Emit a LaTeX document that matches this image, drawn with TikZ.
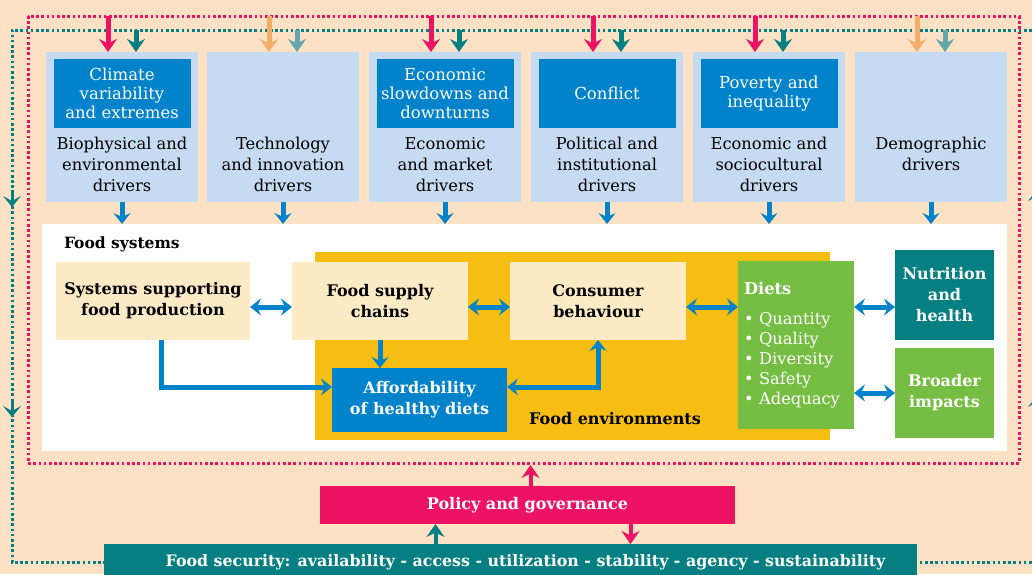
\documentclass[tikz,border=0pt]{standalone}
\usepackage{fontspec}
\setmainfont{DejaVu Serif}
\usetikzlibrary{arrows.meta}
\definecolor{peach}{HTML}{FCE1C5}
\definecolor{drvblue}{HTML}{C6DBF2}
\definecolor{shkblue}{HTML}{0083CA}
\definecolor{polpink}{HTML}{EE1262}
\definecolor{fsteal}{HTML}{067F82}
\definecolor{lteal}{HTML}{61A7AB}
\definecolor{lorange}{HTML}{F2AD68}
\definecolor{envyellow}{HTML}{F6BE13}
\definecolor{cream}{HTML}{FEEBC6}
\definecolor{dietgreen}{HTML}{76BE43}
\begin{document}
\begin{tikzpicture}[x=1pt,y=-1pt,
    every node/.style={inner sep=0pt,outer sep=0pt},
    drvbox/.style={fill=drvblue,minimum width=152pt,minimum height=150pt},
    shkbox/.style={fill=shkblue,text=white,minimum width=137pt,minimum height=69pt,align=center,font=\fontsize{16.5}{19}\selectfont},
    drvtext/.style={anchor=north,align=center,font=\fontsize{16.3}{21}\selectfont},
    fsbox/.style={fill=cream,minimum height=78pt,align=center,font=\bfseries\fontsize{16}{21}\selectfont},
    outbox/.style={minimum width=99pt,minimum height=90pt,align=center,text=white,font=\bfseries\fontsize{16}{21}\selectfont},
    pinkdot/.style={polpink,line width=3pt,dash pattern=on 2.6pt off 2.6pt},
    tealdot/.style={fsteal,line width=3pt,dash pattern=on 2.6pt off 2.6pt},
    toparr/.style={line width=5pt,-{Stealth[length=13pt,width=18pt,inset=4.5pt]}},
    bluearr/.style={shkblue,line width=5pt,-{Stealth[length=11pt,width=17pt,inset=4pt]}},
    bluedbl/.style={shkblue,line width=5pt,{Stealth[length=11pt,width=17pt,inset=4pt]}-{Stealth[length=11pt,width=17pt,inset=4pt]}},
    chev/.style={fsteal,line width=3pt,-{Stealth[length=11pt,width=18pt,inset=5pt]}}
  ]
  \useasboundingbox (0,0) rectangle (1032,574);
  \clip (0,0) rectangle (1032,574);
  \fill[peach] (0,0) rectangle (1032,574);

  % feedback loops
  \draw[tealdot] (1037,30) -- (12,30) -- (12,562) -- (1037,562) -- cycle;
  \draw[pinkdot] (28,16) rectangle (1019,463);
  \draw[chev] (12,190) -- (12,207);
  \draw[chev] (12,400) -- (12,417);
  \draw[chev] (1037,207) -- (1037,190);
  \draw[chev] (1037,413) -- (1037,396);
  \coordinate (pinkline) at (0,16);
  \coordinate (tealline) at (0,30);
  \coordinate (pinkbot) at (0,465);

  % drivers
  \node[drvbox] (drvbio) at (122,127) {};
  \node[drvbox] (drvtech) at (283,127) {};
  \node[drvbox] (drvecon) at (445,127) {};
  \node[drvbox] (drvpol) at (607,127) {};
  \node[drvbox] (drvsoc) at (769,127) {};
  \node[drvbox] (drvdem) at (931,127) {};
  \node[shkbox] (shkclim) at (122,93.5) {Climate\\variability\\and extremes};
  \node[shkbox] (shkecon) at (445,93.5) {Economic\\slowdowns and\\downturns};
  \node[shkbox] (shkconf) at (607,93.5) {Conflict};
  \node[shkbox] (shkpov) at (769,93.5) {Poverty and\\inequality};
  \node[drvtext] (txtbio) at (122,137) {Biophysical and\\environmental\\drivers};
  \node[drvtext] (txttech) at (283,137) {Technology\\and innovation\\drivers};
  \node[drvtext] (txtecon) at (445,137) {Economic\\and market\\drivers};
  \node[drvtext] (txtpol) at (607,137) {Political and\\institutional\\drivers};
  \node[drvtext] (txtsoc) at (769,137) {Economic and\\sociocultural\\drivers};
  \node[drvtext] (txtdem) at (931,137) {Demographic\\drivers};

  % food systems
  \node[fill=white,minimum width=965pt,minimum height=227pt] (fsys) at (524.5,337.5) {};
  \node[anchor=west,font=\bfseries\fontsize{15.5}{18}\selectfont] (fsyslbl) at (64,244) {Food systems};
  \node[fill=envyellow,minimum width=515pt,minimum height=188pt] (foodenv) at (572.5,346) {};
  \node[font=\bfseries\fontsize{16}{18}\selectfont] (foodenvlbl) at (615,419) {Food environments};
  \node[fsbox,minimum width=194pt] (sysprod) at (153,301) {Systems supporting\\food production};
  \node[fsbox,minimum width=176pt] (supply) at (380,301) {Food supply\\chains};
  \node[fsbox,minimum width=176pt] (consbeh) at (598,301) {Consumer\\behaviour};
  \node[fill=shkblue,text=white,minimum width=175pt,minimum height=64pt,align=center,font=\bfseries\fontsize{16}{21}\selectfont] (afford) at (419.5,400) {Affordability\\of healthy diets};
  \node[fill=dietgreen,text=white,minimum width=116pt,minimum height=168pt,text width=104pt,align=left,font=\fontsize{16.3}{20}\selectfont] (diets) at (796,345)
    {{\bfseries Diets}\\[10pt]\textbullet\ Quantity\\\textbullet\ Quality\\\textbullet\ Diversity\\\textbullet\ Safety\\\textbullet\ Adequacy};
  \node[outbox,fill=fsteal] (nutr) at (944.5,295) {Nutrition\\and\\health};
  \node[outbox,fill=dietgreen] (broader) at (944.5,393) {Broader\\impacts};

  % policy and food security
  \node[fill=polpink,text=white,minimum width=415pt,minimum height=38pt,font=\bfseries\fontsize{16}{18}\selectfont] (polgov) at (527.5,505) {Policy and governance};
  \node[fill=fsteal,text=white,minimum width=813pt,minimum height=36pt,font=\bfseries\fontsize{15.8}{18}\selectfont] (foodsec) at (510.5,562) {\hspace*{30pt}Food security: availability - access - utilization - stability - agency - sustainability};

  % arrows into drivers
  \draw[toparr,polpink] ([xshift=-14pt]drvbio.north |- pinkline) -- ([xshift=-14pt]drvbio.north);
  \draw[toparr,fsteal] ([xshift=14pt]drvbio.north |- tealline) -- ([xshift=14pt]drvbio.north);
  \draw[toparr,lorange] ([xshift=-14pt]drvtech.north |- pinkline) -- ([xshift=-14pt]drvtech.north);
  \draw[toparr,lteal] ([xshift=14pt]drvtech.north |- tealline) -- ([xshift=14pt]drvtech.north);
  \draw[toparr,polpink] ([xshift=-14pt]drvecon.north |- pinkline) -- ([xshift=-14pt]drvecon.north);
  \draw[toparr,fsteal] ([xshift=14pt]drvecon.north |- tealline) -- ([xshift=14pt]drvecon.north);
  \draw[toparr,polpink] ([xshift=-14pt]drvpol.north |- pinkline) -- ([xshift=-14pt]drvpol.north);
  \draw[toparr,fsteal] ([xshift=14pt]drvpol.north |- tealline) -- ([xshift=14pt]drvpol.north);
  \draw[toparr,polpink] ([xshift=-14pt]drvsoc.north |- pinkline) -- ([xshift=-14pt]drvsoc.north);
  \draw[toparr,fsteal] ([xshift=14pt]drvsoc.north |- tealline) -- ([xshift=14pt]drvsoc.north);
  \draw[toparr,lorange] ([xshift=-14pt]drvdem.north |- pinkline) -- ([xshift=-14pt]drvdem.north);
  \draw[toparr,lteal] ([xshift=14pt]drvdem.north |- tealline) -- ([xshift=14pt]drvdem.north);

  % drivers to food systems
  \draw[bluearr] (drvbio.south) -- (drvbio.south |- fsys.north);
  \draw[bluearr] (drvtech.south) -- (drvtech.south |- fsys.north);
  \draw[bluearr] (drvecon.south) -- (drvecon.south |- fsys.north);
  \draw[bluearr] (drvpol.south) -- (drvpol.south |- fsys.north);
  \draw[bluearr] (drvsoc.south) -- (drvsoc.south |- fsys.north);
  \draw[bluearr] (drvdem.south) -- (drvdem.south |- fsys.north);

  % inside food systems
  \draw[bluedbl] ([yshift=-6pt]sysprod.east) -- ([yshift=-6pt]supply.west);
  \draw[bluedbl] ([yshift=-6pt]supply.east) -- ([yshift=-6pt]consbeh.west);
  \coordinate (cd) at ([yshift=-6pt]consbeh.east);
  \draw[bluedbl] (cd) -- (diets.west |- cd);
  \coordinate (dn) at ([yshift=-12pt]nutr.west);
  \draw[bluedbl] (diets.east |- dn) -- (dn);
  \draw[bluedbl] (diets.east |- broader.west) -- (broader.west);
  \draw[bluearr] (supply.south) -- (supply.south |- afford.north);
  \draw[bluearr] ([xshift=8pt]sysprod.south) |- ([yshift=13pt]afford.west);
  \draw[bluedbl] (consbeh.south) |- ([yshift=13pt]afford.east);

  % policy arrows
  \draw[toparr,polpink,line width=4pt] ([xshift=3pt]polgov.north) -- ([xshift=3pt]polgov.north |- pinkbot);
  \draw[toparr,fsteal,line width=4pt] ([xshift=-75pt]foodsec.north) -- ([xshift=-75pt]foodsec.north |- polgov.south);
  \draw[toparr,polpink,line width=4pt] ([xshift=103pt]polgov.south) -- ([xshift=103pt]polgov.south |- foodsec.north);
\end{tikzpicture}
\end{document}
